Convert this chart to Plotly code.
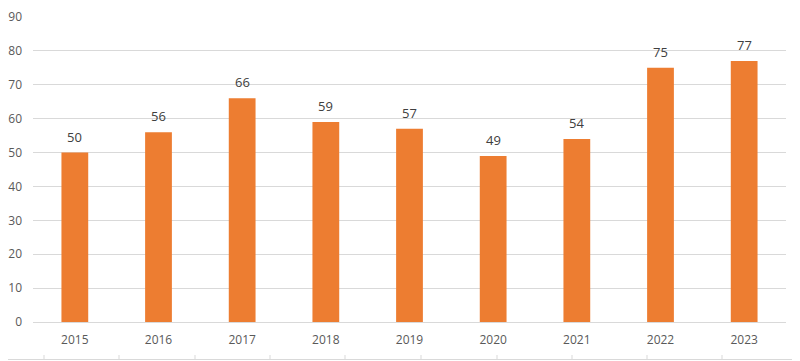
import plotly.graph_objects as go

years = ["2015", "2016", "2017", "2018", "2019", "2020", "2021", "2022", "2023"]
values = [50, 56, 66, 59, 57, 49, 54, 75, 77]

fig = go.Figure(go.Bar(
    x=years, y=values,
    marker=dict(color="#ED7D31", line=dict(width=0)),
    hoverinfo="x+y",
))

for i, v in enumerate(values):
    fig.add_annotation(x=i, y=v, text=str(v), showarrow=False, yanchor="bottom", yshift=5,
                       font=dict(color="#404040", size=13, family="Open Sans, Liberation Sans, sans-serif"))

# page body has an 8px margin: figure is sized/offset to fill the 800x361 window
OFF = 8
W, H = 800 - OFF, 361 - OFF
L, R, T, B = 33 - OFF, 14, 17 - OFF, 39
fig.update_layout(
    width=W, height=H,
    margin=dict(l=L, r=R, t=T, b=B, autoexpand=False),
    paper_bgcolor="white", plot_bgcolor="white",
    bargap=0.68, showlegend=False,
    font=dict(family="Open Sans, Liberation Sans, sans-serif", color="#595959", size=12),
    xaxis=dict(type="category", range=[-0.5, len(years) - 0.5], showgrid=False, showline=False,
               ticks="", automargin=False,
               tickfont=dict(size=12, color="#595959"), ticklabelstandoff=9),
    yaxis=dict(range=[0, 90], dtick=10, showgrid=True, gridcolor="#D9D9D9", gridwidth=1,
               zeroline=True, zerolinecolor="#D9D9D9", zerolinewidth=1, automargin=False,
               tickfont=dict(size=12, color="#595959"), ticks="", ticklabelstandoff=10),
)

# faint bottom frame line with small ticks
ph = H - T - B
pw = W - L - R
yb = -(37.5) / ph
yt = -(33) / ph
fig.add_shape(type="line", xref="paper", yref="paper", x0=-L / pw, x1=(W - L) / pw, y0=yb, y1=yb,
              line=dict(color="#D9D9D9", width=1))
for px in [44, 119, 195, 270, 345, 421, 497, 572, 647, 722, 797]:
    xp = (px - 33) / pw
    fig.add_shape(type="line", xref="paper", yref="paper", x0=xp, x1=xp, y0=yb, y1=yt,
                  line=dict(color="#D9D9D9", width=1))

fig.write_html("out.html")
